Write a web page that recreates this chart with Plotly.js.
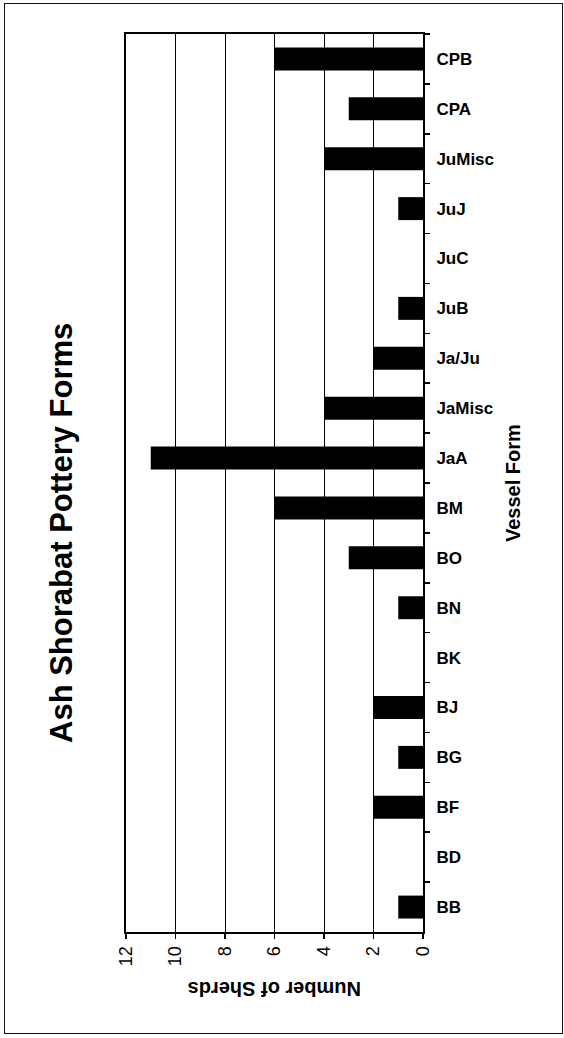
<!DOCTYPE html>
<html>
<head>
<meta charset="utf-8">
<script src="https://cdn.plot.ly/plotly-3.0.1.min.js"></script>
<style>
  html, body { margin: 0; padding: 0; background: #fff; }
  #wrap { position: relative; width: 564px; height: 1038px; }
  #chart { position: absolute; left: 0; top: 0; width: 564px; height: 1038px; }
  #frame { position: absolute; left: 4px; top: 3px; width: 557px; height: 1029px; border: 1.5px solid #111; pointer-events: none; }
</style>
</head>
<body>
<div id="wrap">
  <div id="chart"></div>
  <div id="frame"></div>
</div>
<script>
// Data (top to bottom as shown)
const categories = ["CPB","CPA","JuMisc","JuJ","JuC","JuB","Ja/Ju","JaMisc","JaA","BM","BO","BN","BK","BJ","BG","BF","BD","BB"];
const sherds =     [6,    3,    4,       1,    0,    1,    2,      4,       11,   6,   3,   1,   0,   2,   1,   2,   0,   1];
const valueTicks = [0, 2, 4, 6, 8, 10, 12];

const titleText = "Ash Shorabat Pottery Forms";
const valueAxisTitle = "Number of Sherds";
const categoryAxisTitle = "Vessel Form";

const FONT = "Liberation Sans, Arial, Helvetica, sans-serif";

const trace = {
  type: "bar",
  orientation: "h",
  x: sherds,
  y: categories,
  marker: { color: "#000", line: { width: 0 } },
  hoverinfo: "x+y"
};

const layout = {
  width: 564,
  height: 1038,
  margin: { l: 126, r: 141, t: 34, b: 106, pad: 0 },
  paper_bgcolor: "#fff",
  plot_bgcolor: "#fff",
  showlegend: false,
  bargap: 0.54,
  xaxis: {
    range: [12, 0],
    tickvals: valueTicks,
    ticktext: valueTicks.map(String),
    tickangle: -90,
    ticks: "outside",
    ticklen: 5,
    tickwidth: 1.5,
    tickcolor: "#000",
    showgrid: true,
    gridcolor: "#000",
    gridwidth: 1,
    zeroline: false,
    showline: true,
    linecolor: "#000",
    linewidth: 2,
    mirror: true,
    tickfont: { family: FONT, size: 18, color: "#000" },
    fixedrange: true
  },
  yaxis: {
    type: "category",
    side: "right",
    autorange: "reversed",
    ticks: "outside",
    tickson: "boundaries",
    ticklen: 5,
    tickwidth: 1.5,
    tickcolor: "#000",
    showgrid: false,
    showline: true,
    linecolor: "#000",
    linewidth: 2,
    mirror: true,
    ticklabelstandoff: 8,
    tickfont: { family: FONT, size: 17, color: "#000", weight: "bold" },
    fixedrange: true
  },
  annotations: [
    {
      text: "<b>" + titleText + "</b>",
      xref: "paper", yref: "paper",
      x: (61 - 126) / 297, y: 1 - (533 - 34) / 898,
      xanchor: "center", yanchor: "middle",
      textangle: -90, showarrow: false,
      font: { family: FONT, size: 31, color: "#000" }
    },
    {
      text: "<b>" + categoryAxisTitle + "</b>",
      xref: "paper", yref: "paper",
      x: (513 - 126) / 297, y: 1 - (483 - 34) / 898,
      xanchor: "center", yanchor: "middle",
      textangle: -90, showarrow: false,
      font: { family: FONT, size: 20, color: "#000" }
    },
    {
      text: "<b>" + valueAxisTitle + "</b>",
      xref: "paper", yref: "paper",
      x: (275 - 126) / 297, y: 1 - (989 - 34) / 898,
      xanchor: "center", yanchor: "middle",
      textangle: 180, showarrow: false,
      font: { family: FONT, size: 20, color: "#000" }
    }
  ]
};

Plotly.newPlot("chart", [trace], layout, { displayModeBar: false, staticPlot: true });
</script>
</body>
</html>
